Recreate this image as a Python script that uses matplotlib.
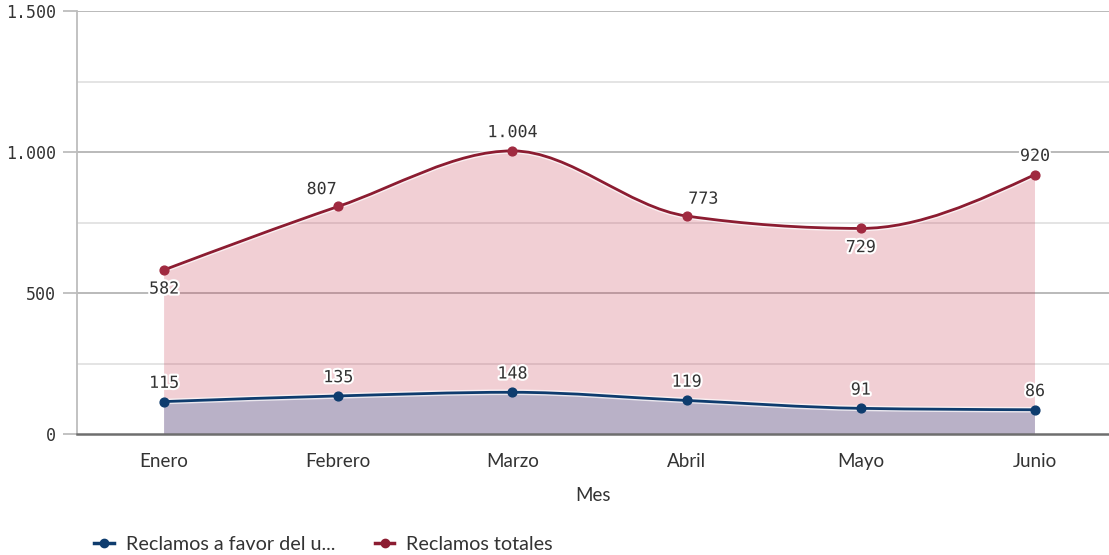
"""Reclamos por mes: area chart with smooth (monotone) lines."""
import numpy as np
import matplotlib.pyplot as plt
from matplotlib.path import Path
from matplotlib.patches import PathPatch
from matplotlib.lines import Line2D
from matplotlib.ticker import FuncFormatter
import matplotlib.patheffects as pe

meses = ["Enero", "Febrero", "Marzo", "Abril", "Mayo", "Junio"]
reclamos_totales = [582, 807, 1004, 773, 729, 920]
reclamos_favor = [115, 135, 148, 119, 91, 86]

# label placement: "above", "below", "above_left", "above_right"
pos_totales = ["below", "above_left", "above", "above_right", "below", "above"]
pos_favor = ["above"] * 6

RED = "#8c1c31"
NAVY = "#0e3c6e"
MONO = "DejaVu Sans Mono"
SANS = "Lato"


def monotone_path(xs, ys, close_to=None):
    """Cubic Bezier path through the points (d3 curveMonotoneX style)."""
    xs = np.asarray(xs, float)
    ys = np.asarray(ys, float)
    n = len(xs)
    h = np.diff(xs)
    s = np.diff(ys) / h
    t = np.zeros(n)
    for i in range(1, n - 1):
        p = (s[i - 1] * h[i] + s[i] * h[i - 1]) / (h[i - 1] + h[i])
        t[i] = (np.sign(s[i - 1]) + np.sign(s[i])) * min(abs(s[i - 1]), abs(s[i]), 0.5 * abs(p))
    t[0] = (3 * s[0] - t[1]) / 2
    t[-1] = (3 * s[-1] - t[-2]) / 2
    verts = [(xs[0], ys[0])]
    codes = [Path.MOVETO]
    for i in range(n - 1):
        dx = h[i] / 3
        verts += [(xs[i] + dx, ys[i] + dx * t[i]),
                  (xs[i + 1] - dx, ys[i + 1] - dx * t[i + 1]),
                  (xs[i + 1], ys[i + 1])]
        codes += [Path.CURVE4] * 3
    if close_to is not None:
        verts += [(xs[-1], close_to), (xs[0], close_to), (xs[0], ys[0])]
        codes += [Path.LINETO, Path.LINETO, Path.CLOSEPOLY]
    return Path(verts, codes)


fig = plt.figure(figsize=(11.09, 5.55), dpi=100)
ax = fig.add_axes([77 / 1109, 121 / 555, 1 - 77 / 1109, 423 / 555])

x = np.arange(len(meses))

ax.set_ylim(0, 1500)
ax.set_xlim(-0.5, 5.425)

# grid
for yv in [250, 750, 1250]:
    ax.axhline(yv, color="#e2e2e2", lw=1.3, zorder=0)
for yv in [500, 1000, 1500]:
    ax.axhline(yv, color="#b4b4b4", lw=1.3, zorder=0)

# areas
ax.add_patch(PathPatch(monotone_path(x, reclamos_totales, 0), facecolor="#c8374f",
                       alpha=0.24, edgecolor="none", zorder=1))
ax.add_patch(PathPatch(monotone_path(x, reclamos_favor, 0), facecolor="#537ab0",
                       alpha=0.35, edgecolor="none", zorder=2))

halo = [pe.Stroke(linewidth=4, foreground="white", alpha=0.7), pe.Normal()]
ax.add_patch(PathPatch(monotone_path(x, reclamos_totales), facecolor="none",
                       edgecolor=RED, lw=2, zorder=3, path_effects=halo))
ax.add_patch(PathPatch(monotone_path(x, reclamos_favor), facecolor="none",
                       edgecolor=NAVY, lw=2, zorder=3, path_effects=halo))
ax.scatter(x, reclamos_totales, s=40, color="#a02a40", zorder=4)
ax.scatter(x, reclamos_favor, s=40, color=NAVY, zorder=4)


def fmt(v):
    return f"{v:,}".replace(",", ".")


offsets = {"above": (0, 7, "center", "bottom"),
           "below": (0, -7, "center", "top"),
           "above_left": (-12, 6, "center", "bottom"),
           "above_right": (12, 6, "center", "bottom")}
lab_fx = [pe.withStroke(linewidth=3, foreground="white")]
for vals, poss in [(reclamos_totales, pos_totales), (reclamos_favor, pos_favor)]:
    for xi, v, p in zip(x, vals, poss):
        dx, dy, ha, va = offsets[p]
        ax.annotate(fmt(v), (xi, v), xytext=(dx, dy), textcoords="offset points",
                    ha=ha, va=va, fontsize=12, family=MONO, color="#333333",
                    path_effects=lab_fx, zorder=5)

# axes styling
for side in ["top", "right"]:
    ax.spines[side].set_visible(False)
ax.spines["left"].set_color("#bdbdbd")
ax.spines["left"].set_linewidth(1.3)
ax.spines["bottom"].set_color("#6e6e6e")
ax.spines["bottom"].set_linewidth(1.8)
ax.spines["bottom"].set_zorder(6)

ax.set_yticks([0, 500, 1000, 1500])
ax.yaxis.set_major_formatter(FuncFormatter(lambda v, _: fmt(int(v))))
ax.tick_params(axis="y", length=10, width=1.3, color="#bdbdbd", pad=5,
               labelsize=12, labelcolor="#333333")
for lab in ax.get_yticklabels():
    lab.set_family(MONO)

ax.set_xticks(x)
ax.set_xticklabels(meses, family=SANS, fontsize=13.5, color="#333333")
ax.tick_params(axis="x", length=0, pad=14)
ax.set_xlabel("Mes", family=SANS, fontsize=13.5, color="#333333", labelpad=12)

handles = [
    Line2D([], [], color=NAVY, lw=2.5, marker="o", ms=6),
    Line2D([], [], color=RED, lw=2.5, marker="o", ms=6),
]
fig.legend(handles, ["Reclamos a favor del u...", "Reclamos totales"],
           loc="lower left", bbox_to_anchor=(0.069, -0.028), ncol=2, frameon=False,
           handlelength=1.0, handletextpad=0.6, columnspacing=2.0,
           prop={"family": SANS, "size": 14.2}, labelcolor="#333333")

fig.savefig("out.png", dpi=100)
